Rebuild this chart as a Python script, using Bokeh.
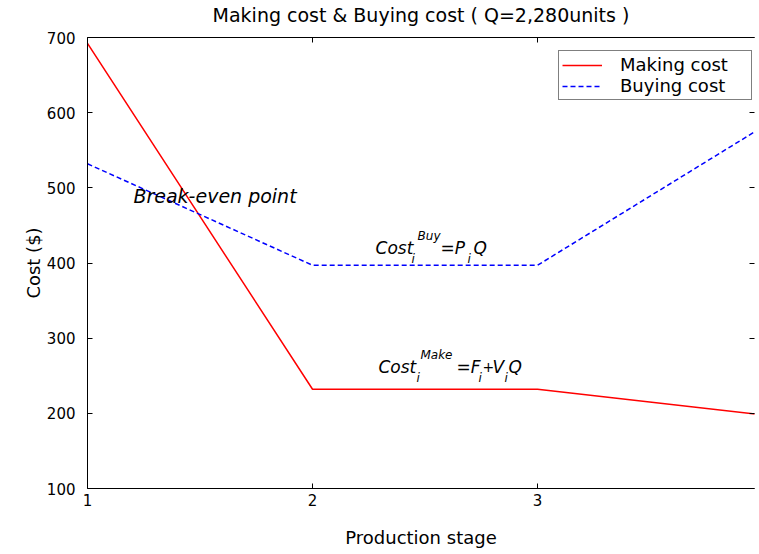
from bokeh.plotting import figure
from bokeh.models import (LinearAxis, FixedTicker, Range1d, Legend, LegendItem,
                          ColumnDataSource, CustomLabelingPolicy)
from bokeh.core.properties import value
from bokeh.embed import file_html
from bokeh.resources import INLINE

# ---- data ----
stages = [1, 2, 3, 4]
making_cost = [692, 232, 232, 198]
buying_cost = [532, 397, 397, 581]
x_ticks = [1, 2, 3, 4]
y_ticks = [100, 200, 300, 400, 500, 600, 700]
title_text = "Making cost & Buying cost ( Q=2,280units )"
x_label = "Production stage"
y_label = "Cost ($)"
series_names = ["Making cost", "Buying cost"]

FONT = "DejaVu Sans"

p = figure(width=759, height=554, output_backend="svg", toolbar_location=None,
           x_range=Range1d(1, 3.964), y_range=Range1d(100, 700),
           min_border_left=87, min_border_right=0, min_border_top=37,
           min_border_bottom=66)
p.background_fill_color = "white"
p.border_fill_color = "white"
p.outline_line_color = None
p.grid.visible = False

no_labels = CustomLabelingPolicy(code="""
    for (const i of indices) indices.unset(i)
    return indices
""")

def style_axis(ax, labels=True):
    ax.major_tick_in = 5
    ax.major_tick_out = 0
    ax.minor_tick_in = 0
    ax.minor_tick_out = 0
    ax.axis_line_color = "black"
    ax.major_tick_line_color = "black"
    ax.major_label_text_color = "black"
    ax.major_label_text_font = FONT
    ax.major_label_text_font_size = "15px"
    ax.axis_label_text_font = FONT
    ax.axis_label_text_font_size = "18px"
    ax.axis_label_text_font_style = "normal"
    ax.axis_label_text_color = "black"
    if not labels:
        ax.major_label_policy = no_labels
        ax.major_label_text_font_size = "1px"
        ax.major_label_standoff = 0

p.xaxis.ticker = FixedTicker(ticks=x_ticks)
p.yaxis.ticker = FixedTicker(ticks=y_ticks)
style_axis(p.xaxis[0])
style_axis(p.yaxis[0])
p.xaxis.axis_label = x_label
p.yaxis.axis_label = y_label
p.xaxis.major_label_standoff = 5
p.xaxis.axis_label_standoff = 18
p.yaxis.major_label_standoff = 12
p.yaxis.axis_label_standoff = 0

# top axis: inward ticks, chart title as its label
top_axis = LinearAxis(ticker=FixedTicker(ticks=x_ticks))
style_axis(top_axis, labels=False)
top_axis.axis_label = title_text
top_axis.axis_label_text_font_size = "19px"
top_axis.axis_label_standoff = 8
p.add_layout(top_axis, "above")

right_axis = LinearAxis(ticker=FixedTicker(ticks=y_ticks))
style_axis(right_axis, labels=False)
right_axis.axis_line_color = None
p.add_layout(right_axis, "right")

r1 = p.line(stages, making_cost, line_color="#ff0000", line_width=1.5)
r2 = p.line(stages, buying_cost, line_color="#0000ff", line_width=1.5,
            line_dash="5 3")

legend = Legend(items=[LegendItem(label=series_names[0], renderers=[r1]),
                       LegendItem(label=series_names[1], renderers=[r2])],
                location=(471, 388), margin=0, padding=3, spacing=0,
                glyph_width=40, glyph_height=18, label_height=18,
                label_width=128, label_standoff=18)
legend.label_text_font = FONT
legend.label_text_font_size = "18px"
legend.label_text_color = "black"
legend.border_line_color = "black"
legend.border_line_width = 1
legend.background_fill_color = "white"
legend.background_fill_alpha = 1
p.add_layout(legend)

# ---- annotations ----
p.text(x=[1.204], y=[488.5], text=["Break-even point"],
       text_font=value(FONT), text_font_style="italic", text_font_size="19px",
       text_baseline="alphabetic", text_align="left", text_color="black")

buy_src = ColumnDataSource(dict(
    x=[2.28] * 6, y=[419.3] * 6,
    t=["Cost", "i", "Buy", "=P", "i", "Q"],
    dx=[0, 36, 42, 65, 92, 98],
    dy=[0, 11, -12, 0, 11, 0],
    fs=["17px", "12px", "12px", "17px", "12px", "17px"]))
p.text(x="x", y="y", text="t", x_offset="dx", y_offset="dy",
       text_font_size="fs", source=buy_src, text_font=value(FONT),
       text_font_style="italic", text_baseline="alphabetic",
       text_align="left", text_color="black")

make_src = ColumnDataSource(dict(
    x=[2.293] * 9, y=[261] * 9,
    t=["Cost", "i", "Make", "=F", "i", "+", "V", "i", "Q"],
    dx=[0, 38, 42, 78, 100, 104, 114, 126, 130],
    dy=[0, 11, -12, 0, 11, 0, 0, 11, 0],
    fs=["17px", "12px", "12px", "17px", "12px", "14px", "17px", "12px", "17px"]))
p.text(x="x", y="y", text="t", x_offset="dx", y_offset="dy",
       text_font_size="fs", source=make_src, text_font=value(FONT),
       text_font_style="italic", text_baseline="alphabetic",
       text_align="left", text_color="black")

open("out.html", "w").write(file_html(p, INLINE))
